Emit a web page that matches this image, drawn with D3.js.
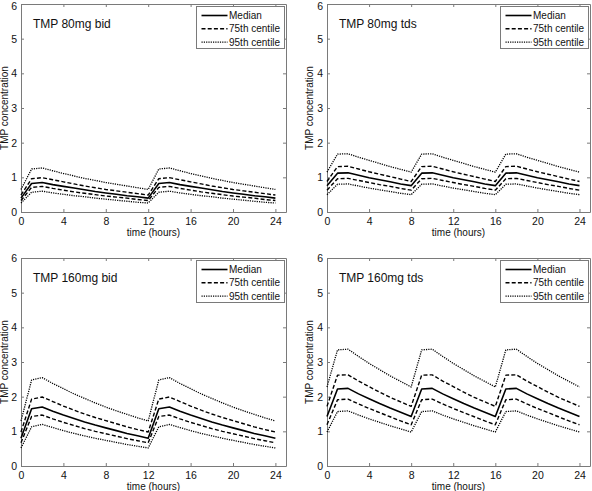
<!DOCTYPE html>
<html>
<head>
<meta charset="utf-8">
<script src="https://cdn.jsdelivr.net/npm/d3@7"></script>
<style>
  html, body { margin: 0; padding: 0; background: #fff; }
  svg { display: block; }
  text { font-family: "Liberation Sans", Arial, sans-serif; fill: #111; }
</style>
</head>
<body>
<div id="chart"></div>
<script>
// ---- data ----
const hours = [0,1,2,3,4,5,6,7,8,9,10,11,12,13,14,15,16,17,18,19,20,21,22,23,24];
const xTicks = [0,4,8,12,16,20,24];
const yTicks = [0,1,2,3,4,5,6];
const seriesNames = ["Median", "75th centile", "95th centile"];
const panelTitles = ["TMP 80mg bid", "TMP 80mg tds", "TMP 160mg bid", "TMP 160mg tds"];
const xLabel = "time (hours)";
const yLabel = "TMP concentration";

// TMP 80mg bid
const p95A = [0.65,1.24,1.27,1.19,1.11,1.04,0.97,0.91,0.85,0.80,0.75,0.70,0.65,1.24,1.27,1.19,1.11,1.04,0.97,0.91,0.85,0.80,0.75,0.70,0.65];
const p75A = [0.49,0.96,0.99,0.93,0.87,0.81,0.75,0.70,0.65,0.61,0.57,0.53,0.49,0.96,0.99,0.93,0.87,0.81,0.75,0.70,0.65,0.61,0.57,0.53,0.49];
const medA = [0.40,0.82,0.85,0.79,0.74,0.69,0.64,0.59,0.55,0.51,0.47,0.44,0.40,0.82,0.85,0.79,0.74,0.69,0.64,0.59,0.55,0.51,0.47,0.44,0.40];
const p25A = [0.33,0.71,0.74,0.68,0.63,0.58,0.54,0.50,0.46,0.43,0.40,0.36,0.33,0.71,0.74,0.68,0.63,0.58,0.54,0.50,0.46,0.43,0.40,0.36,0.33];
const p5A  = [0.26,0.57,0.60,0.55,0.51,0.47,0.44,0.40,0.37,0.34,0.31,0.28,0.26,0.57,0.60,0.55,0.51,0.47,0.44,0.40,0.37,0.34,0.31,0.28,0.26];

// TMP 80mg tds
const p95B = [1.15,1.67,1.68,1.58,1.49,1.40,1.31,1.23,1.15,1.67,1.68,1.58,1.49,1.40,1.31,1.23,1.15,1.67,1.68,1.58,1.49,1.40,1.31,1.23,1.15];
const p75B = [0.88,1.31,1.32,1.24,1.16,1.09,1.02,0.95,0.88,1.31,1.32,1.24,1.16,1.09,1.02,0.95,0.88,1.31,1.32,1.24,1.16,1.09,1.02,0.95,0.88];
const medB = [0.76,1.12,1.13,1.06,0.99,0.93,0.87,0.81,0.76,1.12,1.13,1.06,0.99,0.93,0.87,0.81,0.76,1.12,1.13,1.06,0.99,0.93,0.87,0.81,0.76];
const p25B = [0.63,0.96,0.97,0.91,0.85,0.79,0.74,0.68,0.63,0.96,0.97,0.91,0.85,0.79,0.74,0.68,0.63,0.96,0.97,0.91,0.85,0.79,0.74,0.68,0.63];
const p5B  = [0.50,0.80,0.81,0.75,0.69,0.64,0.59,0.54,0.50,0.80,0.81,0.75,0.69,0.64,0.59,0.54,0.50,0.80,0.81,0.75,0.69,0.64,0.59,0.54,0.50];

// TMP 160mg bid
const p95C = [1.30,2.48,2.55,2.38,2.23,2.08,1.95,1.82,1.70,1.59,1.49,1.39,1.30,2.48,2.55,2.38,2.23,2.08,1.95,1.82,1.70,1.59,1.49,1.39,1.30];
const p75C = [0.98,1.93,1.99,1.86,1.73,1.61,1.50,1.40,1.31,1.22,1.13,1.05,0.98,1.93,1.99,1.86,1.73,1.61,1.50,1.40,1.31,1.22,1.13,1.05,0.98];
const medC = [0.80,1.65,1.70,1.58,1.47,1.37,1.27,1.18,1.10,1.02,0.94,0.87,0.80,1.65,1.70,1.58,1.47,1.37,1.27,1.18,1.10,1.02,0.94,0.87,0.80];
const p25C = [0.67,1.43,1.47,1.36,1.26,1.17,1.08,1.00,0.93,0.86,0.79,0.73,0.67,1.43,1.47,1.36,1.26,1.17,1.08,1.00,0.93,0.86,0.79,0.73,0.67];
const p5C  = [0.52,1.13,1.20,1.11,1.02,0.94,0.87,0.80,0.74,0.68,0.62,0.57,0.52,1.13,1.20,1.11,1.02,0.94,0.87,0.80,0.74,0.68,0.62,0.57,0.52];

// TMP 160mg tds
const p95D = [2.28,3.35,3.37,3.16,2.96,2.78,2.60,2.44,2.28,3.35,3.37,3.16,2.96,2.78,2.60,2.44,2.28,3.35,3.37,3.16,2.96,2.78,2.60,2.44,2.28];
const p75D = [1.72,2.62,2.63,2.45,2.29,2.13,1.98,1.85,1.72,2.62,2.63,2.45,2.29,2.13,1.98,1.85,1.72,2.62,2.63,2.45,2.29,2.13,1.98,1.85,1.72];
const medD = [1.43,2.22,2.24,2.08,1.94,1.80,1.67,1.55,1.43,2.22,2.24,2.08,1.94,1.80,1.67,1.55,1.43,2.22,2.24,2.08,1.94,1.80,1.67,1.55,1.43];
const p25D = [1.19,1.91,1.93,1.79,1.66,1.54,1.42,1.30,1.19,1.91,1.93,1.79,1.66,1.54,1.42,1.30,1.19,1.91,1.93,1.79,1.66,1.54,1.42,1.30,1.19];
const p5D  = [0.98,1.57,1.59,1.47,1.36,1.26,1.16,1.07,0.98,1.57,1.59,1.47,1.36,1.26,1.16,1.07,0.98,1.57,1.59,1.47,1.36,1.26,1.16,1.07,0.98];

// ---- layout ----
const W = 592, H = 491;
const panels = [
  { title: panelTitles[0], x0: 21,  x1: 286, y0: 4,   y1: 212, s: [p95A, p75A, medA, p25A, p5A], ylx: -13 },
  { title: panelTitles[1], x0: 327, x1: 590, y0: 4,   y1: 212, s: [p95B, p75B, medB, p25B, p5B], ylx: -14.5 },
  { title: panelTitles[2], x0: 21,  x1: 286, y0: 258, y1: 466, s: [p95C, p75C, medC, p25C, p5C], ylx: -13 },
  { title: panelTitles[3], x0: 327, x1: 590, y0: 258, y1: 466, s: [p95D, p75D, medD, p25D, p5D], ylx: -14.5 }
];
const styles = {
  solid:  { dash: null,      w: 1.6 },
  dashed: { dash: "4,2.2",   w: 1.4 },
  dotted: { dash: "1.2,1.1", w: 1.3 }
};
const seriesStyle = ["dotted", "dashed", "solid", "dashed", "dotted"];
const legendStyle = ["solid", "dashed", "dotted"];
const axisColor = "#7a7a7a";

const svg = d3.select("#chart").append("svg")
  .attr("width", W).attr("height", H);
svg.append("rect").attr("width", W).attr("height", H).attr("fill", "#fff");

panels.forEach(p => {
  const x = d3.scaleLinear().domain([0, 25]).range([p.x0, p.x1]);
  const y = d3.scaleLinear().domain([0, 6]).range([p.y1, p.y0]);
  const g = svg.append("g");
  const tl = 3;

  // axes (MATLAB-style inward ticks on all sides)
  const bottom = d3.axisBottom(x).tickValues(xTicks).tickSizeInner(-tl).tickSizeOuter(0).tickPadding(6).tickFormat(d3.format("d"));
  const top = d3.axisTop(x).tickValues(xTicks).tickSizeInner(-tl).tickSizeOuter(0).tickFormat("");
  const left = d3.axisLeft(y).tickValues(yTicks).tickSizeInner(-tl).tickSizeOuter(0).tickPadding(4).tickFormat(d3.format("d"));
  const right = d3.axisRight(y).tickValues(yTicks).tickSizeInner(-tl).tickSizeOuter(0).tickFormat("");

  const styleAxis = sel => {
    sel.selectAll("path").attr("stroke", axisColor).attr("stroke-width", 1);
    sel.selectAll("line").attr("stroke", axisColor).attr("stroke-width", 1);
    sel.selectAll("text").attr("font-size", 10.5).attr("fill", "#222")
      .attr("font-family", "Liberation Sans, Arial, sans-serif");
  };
  g.append("g").attr("transform", `translate(0,${p.y1})`).call(bottom).call(styleAxis);
  g.append("g").attr("transform", `translate(0,${p.y0})`).call(top).call(styleAxis);
  const leftG = g.append("g").attr("transform", `translate(${p.x0},0)`).call(left).call(styleAxis);
  g.append("g").attr("transform", `translate(${p.x1},0)`).call(right).call(styleAxis);

  // keep the topmost tick label fully inside the picture
  if (p.y0 < 8) {
    leftG.selectAll(".tick").filter(d => d === 6).select("text").attr("dy", "0.5em");
  }

  // lines
  const line = d3.line().x((d, i) => x(hours[i])).y(d => y(d));
  p.s.forEach((arr, k) => {
    const st = styles[seriesStyle[k]];
    g.append("path").datum(arr)
      .attr("d", line)
      .attr("fill", "none")
      .attr("stroke", "#000")
      .attr("stroke-width", st.w)
      .attr("stroke-linejoin", "round")
      .attr("stroke-dasharray", st.dash);
  });

  // title
  g.append("text")
    .attr("x", x(1.13)).attr("y", y(5.3))
    .attr("font-size", 12)
    .text(p.title);

  // axis labels
  g.append("text")
    .attr("x", (p.x0 + p.x1) / 2).attr("y", p.y1 + 24)
    .attr("text-anchor", "middle").attr("font-size", 10)
    .text(xLabel);
  g.append("text")
    .attr("transform", `translate(${p.x0 + p.ylx},${(p.y0 + p.y1) / 2}) rotate(-90)`)
    .attr("text-anchor", "middle").attr("font-size", 10)
    .text(yLabel);

  // legend
  const lw = 88, lh = 42;
  const lx = p.x1 - lw - 1.5, ly = p.y0 + 2.5;
  const lg = g.append("g").attr("transform", `translate(${lx},${ly})`);
  lg.append("rect").attr("width", lw).attr("height", lh)
    .attr("fill", "#fff").attr("stroke", axisColor).attr("stroke-width", 1);
  seriesNames.forEach((name, k) => {
    const cy = 9 + k * 13.3;
    const st = styles[legendStyle[k]];
    lg.append("line").attr("x1", 5).attr("x2", 31).attr("y1", cy).attr("y2", cy)
      .attr("stroke", "#000").attr("stroke-width", st.w)
      .attr("stroke-dasharray", st.dash);
    lg.append("text").attr("x", 32.5).attr("y", cy).attr("dy", "0.35em")
      .attr("font-size", 10).text(name);
  });
});
</script>
</body>
</html>
